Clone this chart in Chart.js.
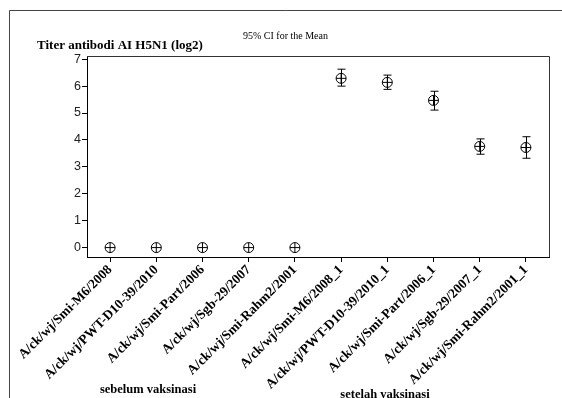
<!DOCTYPE html>
<html>
<head>
<meta charset="utf-8">
<script src="https://cdn.jsdelivr.net/npm/chart.js@4"></script>
<style>
  html, body { margin: 0; padding: 0; background: #fff; }
  #wrap { width: 562px; height: 398px; position: relative; }
</style>
</head>
<body>
<div id="wrap"><canvas id="chart" width="562" height="398"></canvas></div>
<script>
(function () {
  'use strict';

  var labels = [
    'A/ck/wj/Smi-M6/2008',
    'A/ck/wj/PWT-D10-39/2010',
    'A/ck/wj/Smi-Part/2006',
    'A/ck/wj/Sgb-29/2007',
    'A/ck/wj/Smi-Rahm2/2001',
    'A/ck/wj/Smi-M6/2008_1',
    'A/ck/wj/PWT-D10-39/2010_1',
    'A/ck/wj/Smi-Part/2006_1',
    'A/ck/wj/Sgb-29/2007_1',
    'A/ck/wj/Smi-Rahm2/2001_1'
  ];
  var means = [0, 0, 0, 0, 0, 6.29, 6.14, 5.47, 3.76, 3.72];
  var lower = [0, 0, 0, 0, 0, 6.00, 5.88, 5.11, 3.47, 3.32];
  var upper = [0, 0, 0, 0, 0, 6.63, 6.41, 5.81, 4.04, 4.12];
  var yTicks = [0, 1, 2, 3, 4, 5, 6, 7];

  var SERIF = '"Liberation Serif", "Times New Roman", serif';
  var SANS = '"Liberation Sans", Arial, sans-serif';

  // error bars + frame + texts
  var decor = {
    id: 'decor',
    beforeDatasetsDraw: function (chart) {
      var ctx = chart.ctx;
      var x = chart.scales.x, y = chart.scales.y;
      ctx.save();
      ctx.strokeStyle = '#000';
      ctx.lineWidth = 1;
      for (var i = 0; i < means.length; i++) {
        if (upper[i] === lower[i]) continue;
        var px = Math.round(x.getPixelForValue(i)) + 0.5;
        var top = y.getPixelForValue(upper[i]);
        var bot = y.getPixelForValue(lower[i]);
        ctx.beginPath();
        ctx.moveTo(px, top); ctx.lineTo(px, bot);
        ctx.moveTo(px - 4, top); ctx.lineTo(px + 4, top);
        ctx.moveTo(px - 4, bot); ctx.lineTo(px + 4, bot);
        ctx.stroke();
      }
      ctx.restore();
    },
    afterDraw: function (chart) {
      var ctx = chart.ctx;
      var a = chart.chartArea;
      ctx.save();
      ctx.strokeStyle = '#333';
      ctx.lineWidth = 1;
      // plot box top/right
      ctx.beginPath();
      ctx.moveTo(a.left, a.top + 0.5); ctx.lineTo(a.right + 0.5, a.top + 0.5);
      ctx.lineTo(a.right + 0.5, a.bottom);
      ctx.stroke();
      // outer frame
      ctx.strokeStyle = '#444';
      ctx.beginPath();
      ctx.moveTo(562, 10.5); ctx.lineTo(9.5, 10.5); ctx.lineTo(9.5, 398);
      ctx.stroke();

      ctx.fillStyle = '#000';
      ctx.textBaseline = 'alphabetic';
      ctx.font = 'bold 13px ' + SERIF;
      ctx.textAlign = 'left';
      ctx.fillText('Titer antibodi AI H5N1 (log2)', 37, 49);
      ctx.font = '10px ' + SERIF;
      ctx.fillText('95% CI for the Mean', 243, 39);
      ctx.font = 'bold 12.5px ' + SERIF;
      ctx.textAlign = 'center';
      ctx.fillText('sebelum vaksinasi', 148, 393);
      ctx.fillText('setelah vaksinasi', 385, 398);
      ctx.restore();
    }
  };

  new Chart(document.getElementById('chart'), {
    type: 'line',
    data: {
      labels: labels,
      datasets: [{
        data: means,
        showLine: false,
        pointStyle: 'circle',
        pointRadius: 5,
        pointBorderWidth: 1,
        pointBorderColor: '#000',
        pointBackgroundColor: 'rgba(0,0,0,0)'
      }, {
        data: means,
        showLine: false,
        pointStyle: 'cross',
        pointRadius: 5,
        pointBorderWidth: 1,
        pointBorderColor: '#000'
      }]
    },
    options: {
      responsive: false,
      animation: false,
      layout: { padding: { top: 56, right: 13, left: 0, bottom: 0 } },
      plugins: { legend: { display: false }, tooltip: { enabled: false } },
      scales: {
        x: {
          offset: true,
          grid: { drawOnChartArea: false, drawTicks: true, tickLength: 5, color: '#000', offset: false },
          border: { display: true, color: '#000' },
          ticks: {
            autoSkip: false,
            minRotation: 45, maxRotation: 45,
            padding: 0,
            color: '#000',
            font: { family: SERIF, size: 13.5, weight: 'bold' }
          },
          afterFit: function (s) { s.height = 141; }
        },
        y: {
          min: -0.35, max: 7.12,
          afterBuildTicks: function (s) {
            s.ticks = yTicks.map(function (v) { return { value: v }; });
          },
          grid: { drawOnChartArea: false, drawTicks: true, tickLength: 5, color: '#000' },
          border: { display: true, color: '#000' },
          ticks: {
            padding: 1,
            color: '#222',
            font: { family: SANS, size: 12.5 }
          },
          afterFit: function (s) { s.width = 87; }
        }
      }
    },
    plugins: [decor]
  });
})();
</script>
</body>
</html>
